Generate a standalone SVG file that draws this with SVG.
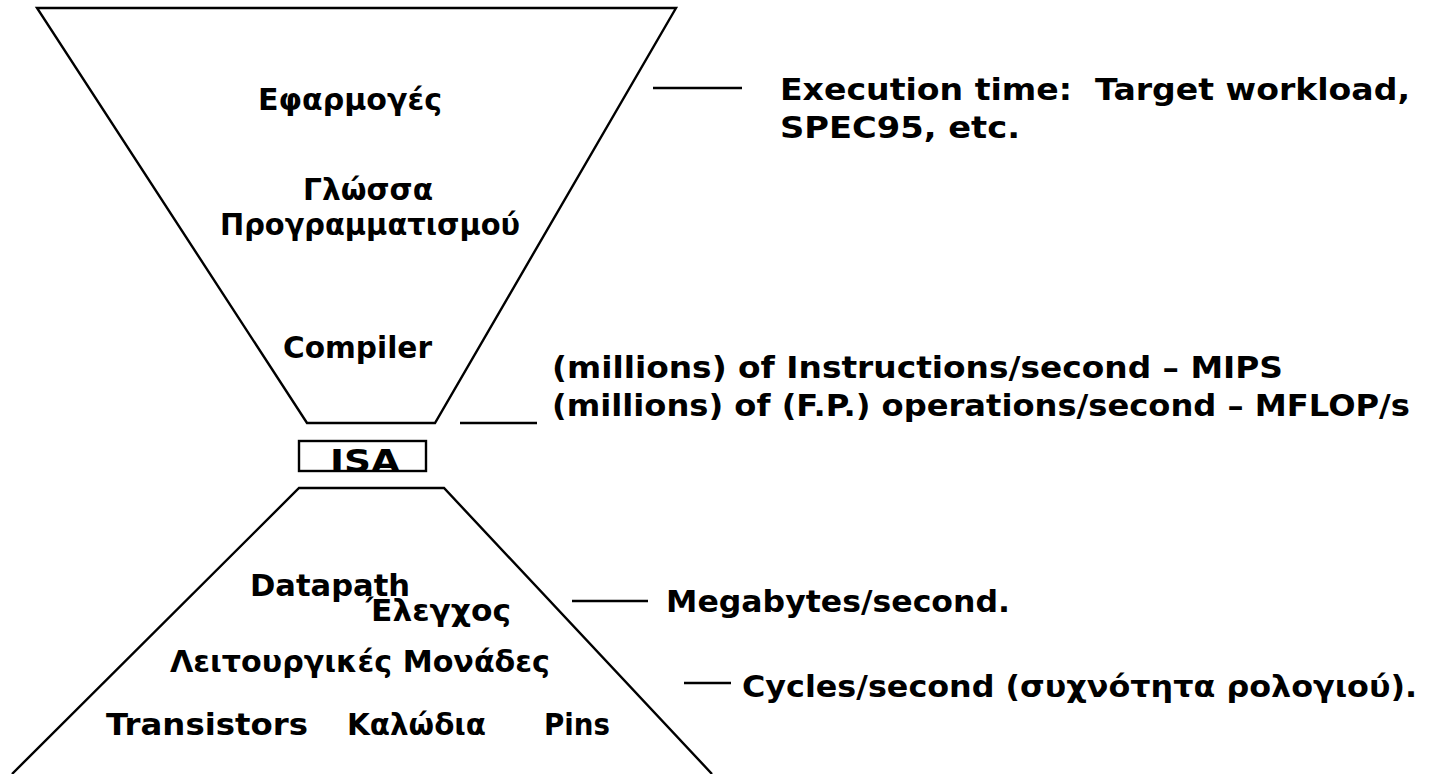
<svg xmlns="http://www.w3.org/2000/svg" width="1440" height="774" viewBox="0 0 1440 774">
<style>
text{font-family:"DejaVu Sans","Liberation Sans",sans-serif;font-weight:bold;font-size:30px;fill:#000}
.ln{stroke:#000;stroke-width:2.4;fill:none}
</style>
<rect width="1440" height="774" fill="#fff"/>
<g id="top-funnel">
<polygon class="ln" points="37,8 676,8 435,423 307,423"/>
<text x="258" y="110" textLength="184" lengthAdjust="spacingAndGlyphs">Εφαρμογές</text>
<text x="303" y="200" textLength="130" lengthAdjust="spacingAndGlyphs">Γλώσσα</text>
<text x="220" y="235" textLength="300" lengthAdjust="spacingAndGlyphs">Προγραμματισμού</text>
<text x="283" y="358" textLength="149" lengthAdjust="spacingAndGlyphs">Compiler</text>
</g>
<g id="isa">
<rect class="ln" x="299" y="441" width="127" height="30"/>
<text x="330" y="472" textLength="70" lengthAdjust="spacingAndGlyphs" style="font-size:32px">ISA</text>
</g>
<g id="bottom-funnel">
<polyline class="ln" points="12,774 299,488 444,488 712,774"/>
<text x="250" y="596" textLength="160" lengthAdjust="spacingAndGlyphs">Datapath</text>
<text x="366" y="621" textLength="145" lengthAdjust="spacingAndGlyphs">Έλεγχος</text>
<text x="170" y="672" textLength="380" lengthAdjust="spacingAndGlyphs">Λειτουργικές Μονάδες</text>
<text x="106" y="735" textLength="202" lengthAdjust="spacingAndGlyphs">Transistors</text>
<text x="347" y="735" textLength="139" lengthAdjust="spacingAndGlyphs">Καλώδια</text>
<text x="544" y="735" textLength="66" lengthAdjust="spacingAndGlyphs">Pins</text>
</g>
<g id="connectors">
<line class="ln" x1="653" y1="88" x2="742" y2="88"/>
<line class="ln" x1="460" y1="423" x2="537" y2="423"/>
<line class="ln" x1="572" y1="601" x2="648" y2="601"/>
<line class="ln" x1="684" y1="683" x2="731" y2="683"/>
</g>
<g id="metrics">
<text x="780" y="100" textLength="630" lengthAdjust="spacingAndGlyphs" xml:space="preserve">Execution time:  Target workload,</text>
<text x="780" y="138" textLength="240" lengthAdjust="spacingAndGlyphs">SPEC95, etc.</text>
<text x="552" y="378" textLength="731" lengthAdjust="spacingAndGlyphs">(millions) of Instructions/second – MIPS</text>
<text x="552" y="416" textLength="858" lengthAdjust="spacingAndGlyphs">(millions) of (F.P.) operations/second – MFLOP/s</text>
<text x="666" y="612" textLength="344" lengthAdjust="spacingAndGlyphs">Megabytes/second.</text>
<text x="742" y="697" textLength="675" lengthAdjust="spacingAndGlyphs">Cycles/second (συχνότητα ρολογιού).</text>
</g>
</svg>
